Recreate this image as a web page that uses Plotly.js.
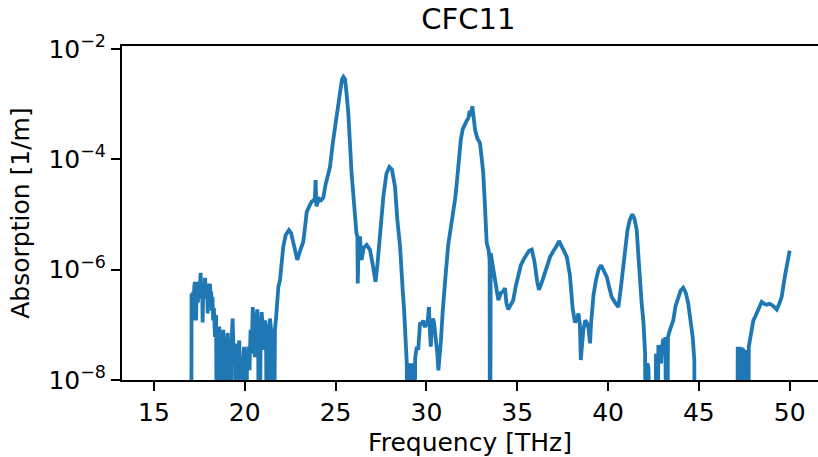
<!DOCTYPE html>
<html>
<head>
<meta charset="utf-8">
<script src="https://cdn.plot.ly/plotly-3.0.1.min.js"></script>
<style>html,body{margin:0;padding:0;background:#fff;}#chart{width:818px;height:457px;}</style>
</head>
<body>
<div id="chart"></div>
<script>
// Frequency [THz]
const freq = [
17.05,17.07,17.09,17.11,17.13,17.16,17.19,17.22,17.26,17.29,17.32,17.35,17.38,17.42,17.45,17.49,17.52,17.57,17.60,17.62,17.65,17.68,17.71,17.74,17.78,17.81,17.85,17.88,17.92,17.96,17.99,18.02,18.05,18.08,18.12,18.15,18.19,18.22,18.26,18.30,18.36,18.42,
18.49,18.55,18.60,18.67,18.75,18.82,18.88,18.95,19.06,19.12,19.19,19.26,19.33,19.40,19.46,19.55,19.62,19.70,19.77,19.83,19.90,19.96,20.05,20.12,20.19,20.26,20.32,20.38,20.44,20.50,20.56,20.62,20.69,20.74,20.80,20.87,20.93,21.00,21.06,21.12,21.17,21.24,21.32,21.39,21.45,21.50,21.57,21.66,21.72,21.79,21.85,21.94,22.00,22.12,22.25,22.43,22.55,22.70,22.89,23.05,23.22,23.32,23.41,23.55,23.68,23.80,23.86,23.90,23.94,24.00,24.10,24.20,24.32,24.45,24.55,24.69,24.85,25.06,25.25,25.35,25.43,25.52,25.60,25.70,25.88,26.07,26.15,26.20,26.22,26.27,26.34,26.43,26.55,26.71,26.89,27.05,27.20,27.30,27.44,27.63,27.80,27.96,28.10,28.27,28.40,28.55,28.70,28.77,28.92,28.97,29.02,29.08,29.14,29.20,29.26,29.32,29.38,29.47,29.55,29.65,29.75,29.83,29.92,29.98,30.05,30.10,30.14,30.19,30.24,30.30,30.36,30.42,30.52,30.60,30.66,30.72,30.80,30.90,30.98,31.08,31.20,31.30,31.39,31.48,31.58,31.67,31.78,31.89,32.00,32.13,32.22,32.31,32.38,32.44,32.50,32.53,32.58,32.63,32.68,32.80,32.95,33.05,33.13,33.22,33.32,33.42,33.48,33.50,33.54,33.60,33.68,33.80,33.96,34.10,34.22,34.33,34.40,34.51,34.65,34.78,34.92,35.06,35.20,35.34,35.50,35.65,35.80,35.95,36.10,36.20,36.40,36.60,36.81,37.00,37.15,37.30,37.45,37.60,37.73,37.90,38.05,38.18,38.30,38.37,38.45,38.50,38.57,38.64,38.75,38.83,38.92,39.01,39.06,39.10,39.20,39.34,39.48,39.62,39.75,39.85,39.93,40.05,40.20,40.40,40.57,40.70,40.85,40.95,41.07,41.20,41.34,41.45,41.58,41.66,41.76,41.85,41.95,42.04,42.10,42.16,42.22,42.28,42.58,42.64,42.70,42.77,42.84,42.92,42.98,43.04,43.10,43.16,43.23,43.30,43.41,43.50,43.59,43.72,43.86,44.00,44.14,44.28,44.41,44.55,44.66,44.75,44.80,47.10,47.14,47.25,47.30,47.36,47.45,47.55,47.63,47.70,47.75,47.81,47.90,48.00,48.10,48.18,48.30,48.46,48.60,48.73,48.88,49.01,49.15,49.29,49.45,49.56,49.75,50.00
];
// Absorption [1/m] (1e-12 = below plotted range)
const absorption = [
1e-12,3.7e-7,1.5e-7,3.0e-7,1.2e-7,4.0e-7,2.0e-7,5.0e-7,6.0e-7,2.5e-7,1.2e-7,4.5e-7,5.0e-7,2.5e-7,6.0e-7,3.0e-7,7.0e-7,8.7e-7,4.0e-7,3.0e-7,6.0e-7,1.1e-7,4.0e-7,5.5e-7,3.0e-7,7.1e-7,4.5e-7,3.0e-7,5.5e-7,1.6e-7,3.5e-7,4.5e-7,2.5e-7,5.6e-7,3.0e-7,4.0e-7,1.8e-7,3.2e-7,1.2e-7,2.0e-7,6.0e-8,1.5e-7,
1e-12,3e-8,9.3e-8,1e-12,2e-8,8.1e-8,1e-12,3e-8,7.1e-8,1e-9,1e-12,4e-8,1.3e-7,2e-8,4.6e-8,1e-12,3e-8,5.2e-8,1e-9,1e-12,2e-8,4e-8,1e-12,2e-8,4e-8,1.5e-8,8.1e-8,3e-8,2.1e-7,5e-8,2.6e-8,1e-7,1.9e-7,4e-8,1e-12,6e-8,1.7e-7,8e-8,3.5e-8,1.2e-7,9.3e-8,1e-12,5e-8,1.3e-7,8e-8,5.2e-8,1e-12,8.1e-8,1.3e-7,2.5e-7,4.9e-7,6.5e-7,1.1e-6,2.6e-6,4.2e-6,5.2e-6,4.6e-6,2.8e-6,1.5e-6,2.2e-6,3.2e-6,6.0e-6,1.1e-5,1.4e-5,1.7e-5,1.8e-5,2.0e-5,4.2e-5,1.4e-5,1.6e-5,1.9e-5,1.8e-5,2.0e-5,3.5e-5,4.5e-5,7.2e-5,2.0e-4,6.8e-4,1.8e-3,2.8e-3,3.1e-3,2.8e-3,1.6e-3,6.8e-4,5.6e-5,6.9e-6,4.5e-6,4.0e-6,5.6e-7,3.0e-6,4.0e-6,1.5e-6,2.5e-6,2.8e-6,2.3e-6,1.2e-6,6.0e-7,1.2e-6,4.0e-6,2.1e-5,5.5e-5,7.2e-5,6.5e-5,3.2e-5,8.0e-6,2.6e-6,4.0e-7,1.9e-7,2.0e-8,1e-12,2.0e-8,1e-12,2.0e-8,1e-12,2.0e-8,1e-12,2.5e-8,4.0e-8,3.5e-8,1.1e-7,1.0e-7,1.2e-7,9.0e-8,1.1e-7,9.5e-8,1.3e-7,2.1e-7,8e-8,4.0e-8,1.0e-7,1.3e-7,1.1e-7,6.0e-8,3.0e-8,1.5e-8,3.5e-8,5.2e-8,1.8e-7,5.0e-7,9.8e-7,2.8e-6,4.6e-6,6.5e-6,9.1e-6,1.9e-5,3.6e-5,1.0e-4,2.2e-4,3.5e-4,4.5e-4,5.0e-4,5.5e-4,7.5e-4,6.0e-4,8.5e-4,9.1e-4,6.5e-4,5.0e-4,3.4e-4,2.4e-4,1.95e-4,1.0e-4,5.5e-5,1.5e-5,3.0e-6,2.3e-6,1.5e-6,1e-12,2.0e-6,1.5e-6,9.8e-7,5.0e-7,2.8e-7,3.8e-7,4.0e-7,4.6e-7,2.5e-7,1.9e-7,2.4e-7,2.8e-7,5.0e-7,8.5e-7,1.2e-6,1.5e-6,1.8e-6,2.2e-6,2.3e-6,1.4e-6,6.0e-7,4.3e-7,6.5e-7,1.1e-6,1.7e-6,2.2e-6,2.6e-6,3.3e-6,2.6e-6,2.0e-6,1.7e-6,8.0e-7,2.0e-7,1.1e-7,1.3e-7,1.6e-7,1.0e-7,2.3e-8,6.0e-8,8.1e-8,1.2e-7,1.1e-7,9e-8,4.6e-8,1.0e-7,1.4e-7,3.5e-7,6.5e-7,1.0e-6,1.2e-6,1.0e-6,8.5e-7,7.4e-7,5.0e-7,3.2e-7,2.5e-7,2.1e-7,4.5e-7,1.3e-6,2.8e-6,5.2e-6,8.0e-6,1.0e-5,8.5e-6,5.2e-6,2.0e-6,5.6e-7,2.5e-7,1.1e-7,3.0e-8,1e-12,2.0e-8,1.7e-8,1e-12,1e-12,3.0e-8,1e-12,4.3e-8,3e-8,2e-8,4e-8,5.6e-8,3e-8,6e-8,1e-12,6e-8,8.1e-8,1e-7,1.2e-7,2.2e-7,3.2e-7,4.2e-7,4.7e-7,3.8e-7,2.5e-7,1.2e-7,6.0e-8,2.3e-8,1e-12,1e-12,3.7e-8,3.7e-8,1e-12,3.7e-8,3.5e-8,1e-12,3.5e-8,1e-12,4e-8,5.2e-8,8e-8,1.2e-7,1.4e-7,1.6e-7,2.0e-7,2.6e-7,2.4e-7,2.3e-7,2.4e-7,2.3e-7,2.1e-7,1.9e-7,2.5e-7,3.2e-7,8.0e-7,2.2e-6
];
const xTicks = [15,20,25,30,35,40,45,50];
const yTickVals = [1e-8,1e-6,1e-4,1e-2];
const yTickText = ['10<sup>−8</sup>','10<sup>−6</sup>','10<sup>−4</sup>','10<sup>−2</sup>'];

const font = {family: 'DejaVu Sans', color: '#000', size: 25};
const trace = {
  x: freq, y: absorption, type: 'scatter', mode: 'lines',
  line: {color: '#1f77b4', width: 3.8}, hoverinfo: 'skip'
};
const layout = {
  width: 818, height: 457,
  margin: {l: 122, r: 0, t: 46, b: 77},
  paper_bgcolor: '#fff', plot_bgcolor: '#fff',
  font: font,
  showlegend: false,
  title: {text: 'CFC11', font: {family: 'DejaVu Sans', size: 29, color: '#000'},
          x: 0.5725, xanchor: 'center', y: 0.958, yanchor: 'middle', yref: 'container'},
  xaxis: {
    range: [13.24, 51.56], tickvals: xTicks, ticks: 'outside', ticklen: 9, tickwidth: 2,
    tickcolor: '#000', showline: true, linecolor: '#000', linewidth: 2, mirror: true,
    showgrid: false, zeroline: false, tickfont: font,
    title: {text: 'Frequency [THz]', font: font, standoff: 10}
  },
  yaxis: {
    type: 'log', range: [-8, -1.95], tickvals: yTickVals, ticktext: yTickText,
    ticks: 'outside', ticklen: 9, tickwidth: 2, tickcolor: '#000',
    showline: true, linecolor: '#000', linewidth: 2, mirror: false,
    showgrid: false, zeroline: false, tickfont: font,
    title: {text: 'Absorption [1/m]', font: font, standoff: 12}
  }
};
Plotly.newPlot('chart', [trace], layout, {staticPlot: true, displayModeBar: false});
</script>
</body>
</html>
